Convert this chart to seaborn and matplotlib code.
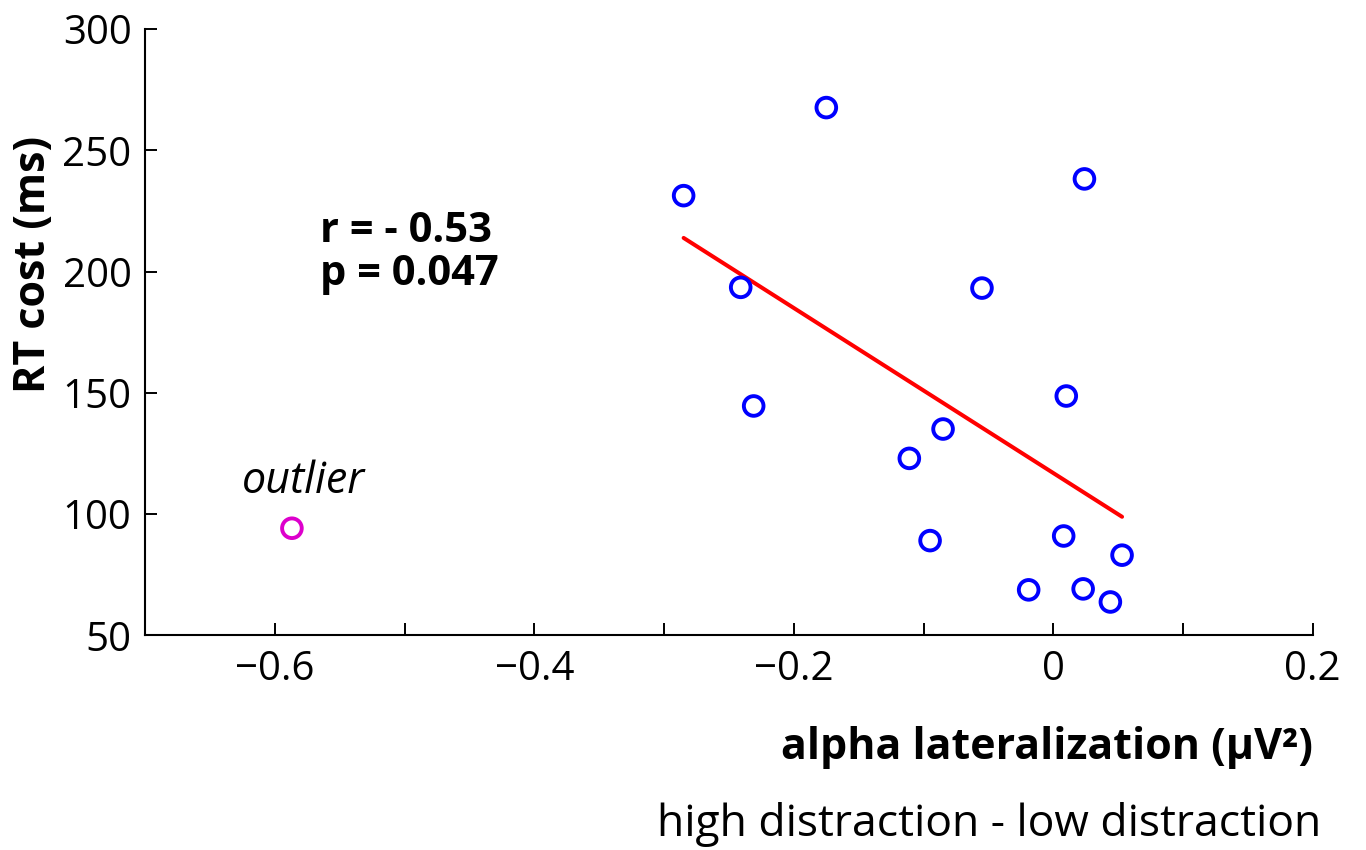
import numpy as np
import pandas as pd
import matplotlib
matplotlib.use("Agg")
import matplotlib.pyplot as plt
import seaborn as sns

# ---------------------------
# DATA
# ---------------------------
alpha_lat = [-0.285, -0.175, -0.241, 0.024, -0.055, 0.010, -0.231, -0.085,
             -0.111, -0.095, 0.008, 0.053, -0.019, 0.023, 0.044]
rt_cost = [231.3, 267.6, 193.5, 238.2, 193.2, 148.7, 144.6, 135.1,
           123.0, 89.1, 91.0, 83.1, 68.8, 69.2, 63.8]
outlier_x = [-0.587]
outlier_y = [94.2]

x_ticks = [-0.6, -0.4, -0.2, 0.0, 0.2]
x_tick_labels = ["\u22120.6", "\u22120.4", "\u22120.2", "0", "0.2"]
x_minor = [-0.5, -0.3, -0.1, 0.1]
y_ticks = [50, 100, 150, 200, 250, 300]

df = pd.DataFrame({"alpha": alpha_lat, "rt": rt_cost})

# ---------------------------
# STYLE
# ---------------------------
sns.set_style("ticks")
plt.rcParams["font.family"] = ["Open Sans", "DejaVu Sans"]
for key in ["text.color", "axes.labelcolor", "xtick.color", "ytick.color", "axes.edgecolor"]:
    plt.rcParams[key] = "black"

fig = plt.figure(figsize=(13.66, 8.5), dpi=100)
ax = fig.add_axes([0.1064, 0.2524, 0.8546, 0.7135])

# regression line (fit on the non-outlier points only)
sns.regplot(data=df, x="alpha", y="rt", ax=ax, scatter=False, ci=None,
            line_kws=dict(color="#ff0000", linewidth=2.9, solid_capstyle="round"))

sns.scatterplot(data=df, x="alpha", y="rt", ax=ax, s=200, marker="o",
                facecolors="none", edgecolor="#0000ff", linewidth=2.8, zorder=3)
sns.scatterplot(x=outlier_x, y=outlier_y, ax=ax, s=200, marker="o",
                facecolors="none", edgecolor="#dd00cc", linewidth=2.8, zorder=3)

ax.set_xlim(-0.7, 0.2)
ax.set_ylim(50, 300)
ax.set_xticks(x_ticks)
ax.set_xticklabels(x_tick_labels)
ax.set_xticks(x_minor, minor=True)
ax.set_yticks(y_ticks)

sns.despine(ax=ax)
for side in ["left", "bottom"]:
    ax.spines[side].set_linewidth(1.5)
ax.tick_params(axis="both", which="both", direction="in", length=8.5,
               width=1.4, labelsize=29, pad=10)

# labels
ax.set_ylabel("RT cost (ms)", fontsize=31, fontweight="bold")
ax.yaxis.set_label_coords(-0.077, 0.6125)
ax.set_xlabel("alpha lateralization (\u00b5V\u00b2)", fontsize=31,
              fontweight="bold", loc="right")
ax.xaxis.set_label_coords(1.0, -0.15)

ax.text(1.007, -0.274, "high distraction - low distraction", transform=ax.transAxes,
        ha="right", va="top", fontsize=32)

# annotations
ax.text(-0.565, 212.3, "r = - 0.53", fontsize=30, fontweight="bold",
        ha="left", va="baseline")
ax.text(-0.565, 194.5, "p = 0.047", fontsize=30, fontweight="bold",
        ha="left", va="baseline")
ax.text(-0.578, 108.7, "outlier", fontsize=31, fontstyle="italic",
        ha="center", va="baseline")

fig.savefig("out.png", dpi=100)
